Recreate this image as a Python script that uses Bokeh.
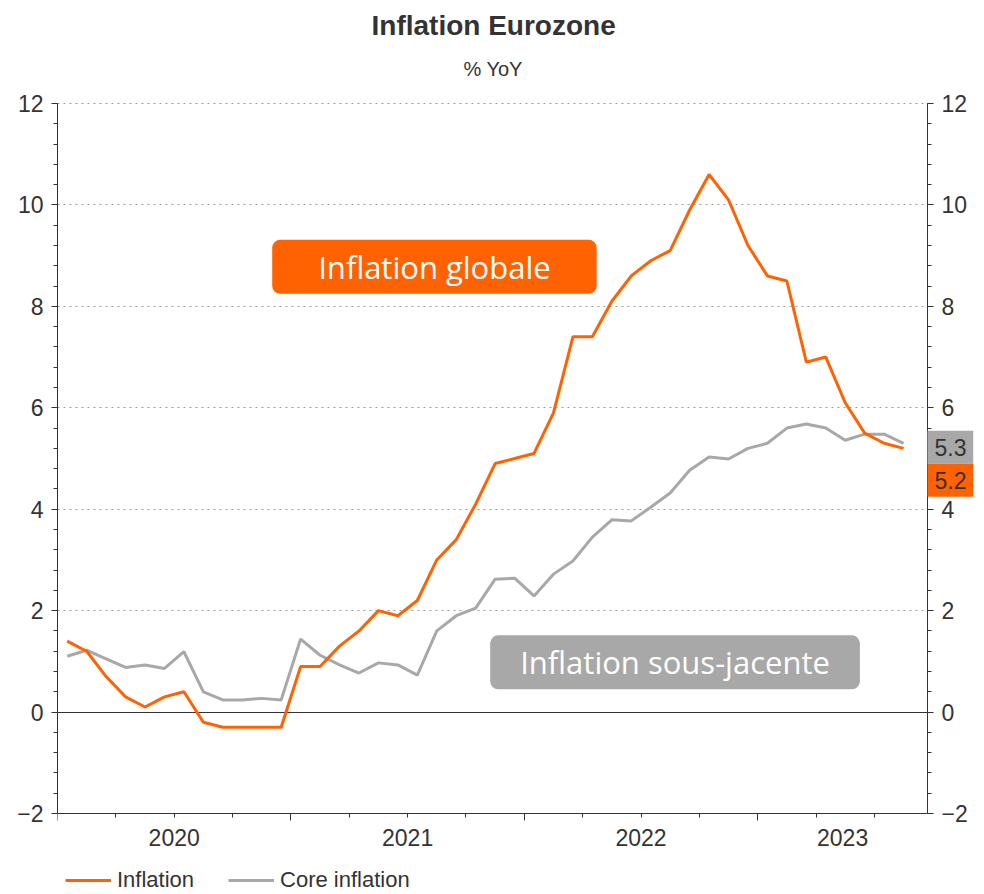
from bokeh.plotting import figure
from bokeh.models import (Range1d, LinearAxis, FixedTicker, Grid, Label, Legend,
                          LegendItem, Title)
from bokeh.embed import file_html
from bokeh.resources import INLINE

# ---- data (monthly, Jan 2020 .. Aug 2023) ----
inflation = [1.4, 1.2, 0.7, 0.3, 0.1, 0.3, 0.4, -0.2, -0.3, -0.3, -0.3, -0.3,
             0.9, 0.9, 1.3, 1.6, 2.0, 1.9, 2.2, 3.0, 3.4, 4.1, 4.9, 5.0,
             5.1, 5.9, 7.4, 7.4, 8.1, 8.6, 8.9, 9.1, 9.9, 10.6, 10.1, 9.2,
             8.6, 8.5, 6.9, 7.0, 6.1, 5.5, 5.3, 5.2]
core = [1.10, 1.22, 1.05, 0.88, 0.93, 0.86, 1.19, 0.40, 0.24, 0.24, 0.27, 0.24,
        1.44, 1.12, 0.93, 0.77, 0.97, 0.93, 0.73, 1.60, 1.90, 2.05, 2.62, 2.64,
        2.29, 2.72, 2.98, 3.45, 3.79, 3.77, 4.04, 4.32, 4.77, 5.03, 4.99, 5.20,
        5.30, 5.60, 5.68, 5.60, 5.36, 5.48, 5.48, 5.30]
month_index = list(range(len(inflation)))          # months since Jan 2020
years = ["2020", "2021", "2022", "2023"]
year_starts = [0, 12, 24, 36]
y_ticks = [-2, 0, 2, 4, 6, 8, 10, 12]
y_lo, y_hi = -2, 12

ORANGE = "#ff6200"
GREY = "#a8a8a8"
DARK = "#333333"
SANS = "Liberation Sans"

x_vals = [m + 0.5 for m in month_index]            # mid-month positions
x_end = 44.73                                      # end of the time axis

# layout (pixels)
PLOT_W, PLOT_H = 870, 710        # size of the value area
BOX_W = 46                       # room for last-value boxes at the right
TOP_PAD = 15                     # room above 12 for its tick label
BOTTOM_PAD = 81                  # room below -2 for year labels and legend
px_per_unit = PLOT_H / (y_hi - y_lo)
x_max = x_end * (PLOT_W + BOX_W) / PLOT_W
y_max = y_hi + TOP_PAD / px_per_unit
y_min = y_lo - BOTTOM_PAD / px_per_unit

p = figure(frame_width=PLOT_W + BOX_W, frame_height=PLOT_H + TOP_PAD + BOTTOM_PAD,
           x_range=Range1d(0, x_max), y_range=Range1d(y_min, y_max),
           output_backend="svg", toolbar_location=None,
           x_axis_location=None, y_axis_location=None,
           min_border_left=57, min_border_right=11, min_border_top=88,
           min_border_bottom=0, outline_line_color=None)
p.background_fill_color = "white"
p.border_fill_color = "white"

# titles (left-aligned with offsets so they centre over the value area)
p.add_layout(Title(text="% YoY", align="left", offset=406, text_font=SANS,
                   text_font_size="20px", text_font_style="normal",
                   text_color=DARK, standoff=17), "above")
p.add_layout(Title(text="Inflation Eurozone", align="left", offset=314,
                   text_font=SANS, text_font_size="28px", text_font_style="bold",
                   text_color=DARK, standoff=14), "above")

# grid
p.xgrid.visible = False
p.ygrid.visible = False
grid = Grid(dimension=1, ticker=FixedTicker(ticks=y_ticks),
            grid_line_color="#9a9a9a", grid_line_dash="dotted", grid_line_width=1)
zero = Grid(dimension=1, ticker=FixedTicker(ticks=[0]),
            grid_line_color=DARK, grid_line_width=1)
for g in (grid, zero):
    g.cross_bounds = (0, x_end)
    p.add_layout(g)

minor_y = [round(y_lo + 0.4 * k, 2) for k in range(36)]


def style_y(ax):
    ax.ticker = FixedTicker(ticks=y_ticks, minor_ticks=minor_y)
    ax.bounds = (y_lo, y_hi)
    ax.axis_line_color = DARK
    ax.major_tick_line_color = DARK
    ax.minor_tick_line_color = DARK
    ax.major_tick_out = 6
    ax.major_tick_in = 0
    ax.minor_tick_out = 4
    ax.minor_tick_in = 0
    ax.major_label_text_font = SANS
    ax.major_label_text_font_size = "23px"
    ax.major_label_text_color = DARK
    ax.major_label_standoff = 8


yl = LinearAxis()
style_y(yl)
p.add_layout(yl, "left")
yr = LinearAxis(fixed_location=x_end)
style_y(yr)
p.add_layout(yr, "right")

# x axis at y=-2: year labels centred on the visible part of each year, quarter ticks
year_centres = [(s + min(s + 12, x_end)) / 2 for s in year_starts]
quarter_ticks = [q for q in range(0, 45, 3) if q not in year_starts]
xa = LinearAxis(ticker=FixedTicker(ticks=year_centres, minor_ticks=quarter_ticks),
                major_label_overrides={c: y for c, y in zip(year_centres, years)},
                bounds=(0, x_end), fixed_location=y_lo)
xa.axis_line_color = DARK
xa.major_tick_line_color = None
xa.minor_tick_line_color = DARK
xa.minor_tick_out = 4
xa.minor_tick_in = 0
xa.major_label_text_font = SANS
xa.major_label_text_font_size = "23px"
xa.major_label_text_color = DARK
xa.major_label_standoff = 9
p.add_layout(xa, "below")

# longer tick marks at the start of each year
xy = LinearAxis(ticker=FixedTicker(ticks=year_starts, minor_ticks=[]),
                major_label_overrides={s: "" for s in year_starts},
                bounds=(0, x_end), fixed_location=y_lo)
xy.axis_line_color = None
xy.major_tick_line_color = DARK
xy.major_tick_out = 7
xy.major_tick_in = 0
xy.major_label_text_font_size = "1px"
p.add_layout(xy, "below")

# series
r_core = p.line(x_vals, core, line_color=GREY, line_width=3)
r_inf = p.line(x_vals, inflation, line_color=ORANGE, line_width=3)

# callout boxes
p.add_layout(Label(x=19.38, y=8.78, text="Inflation globale",
                   text_align="center", text_baseline="middle",
                   text_font="Open Sans", text_font_size="31px",
                   text_color="white", background_fill_color=ORANGE,
                   padding=(46, 6), border_radius=8))
p.add_layout(Label(x=31.75, y=0.98, text="Inflation sous-jacente",
                   text_align="center", text_baseline="middle",
                   text_font="Open Sans", text_font_size="31px",
                   text_color="white", background_fill_color=GREY,
                   padding=(30, 6), border_radius=8))

# last-value boxes next to the right axis
p.add_layout(Label(x=x_end, y=core[-1], y_offset=-4, text=f"{core[-1]:.1f}",
                   text_align="left", text_baseline="middle", level="overlay",
                   text_font=SANS, text_font_size="23px", text_color=DARK,
                   background_fill_color=GREY, padding=(7, 8)))
p.add_layout(Label(x=x_end, y=inflation[-1], y_offset=-32,
                   text=f"{inflation[-1]:.1f}",
                   text_align="left", text_baseline="middle", level="overlay",
                   text_font=SANS, text_font_size="23px", text_color=DARK,
                   background_fill_color=ORANGE, padding=(7, 8)))

# legend (below the time axis, inside the padded frame)
legend = Legend(items=[LegendItem(label="Inflation", renderers=[r_inf]),
                       LegendItem(label="Core inflation", renderers=[r_core])],
                orientation="horizontal", location=(8, 1),
                label_text_font=SANS, label_text_font_size="22px",
                label_text_color=DARK, glyph_width=46, label_standoff=6,
                spacing=34, padding=0, margin=0, border_line_color=None,
                background_fill_alpha=0)
p.add_layout(legend)

open("out.html", "w").write(file_html(p, INLINE))
